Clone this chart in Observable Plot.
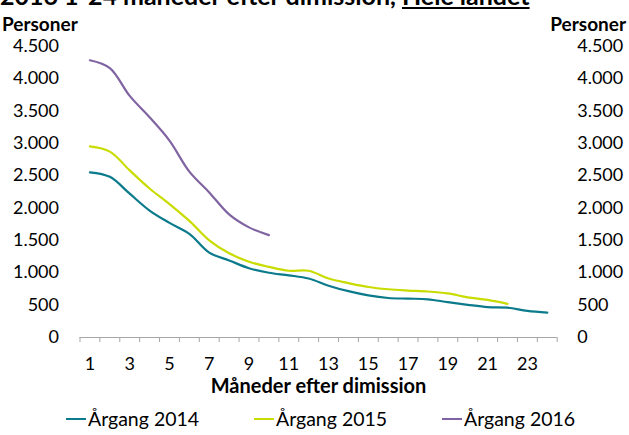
<!DOCTYPE html>
<html>
<head>
<meta charset="utf-8">
<script src="https://cdn.jsdelivr.net/npm/d3@7"></script>
<script src="https://cdn.jsdelivr.net/npm/@observablehq/plot@0.6"></script>
<style>
  html, body { margin: 0; padding: 0; background: #fff; }
  #wrap { position: relative; width: 629px; height: 435px; overflow: hidden; font-family: Lato, sans-serif; color: #000; }
  #wrap svg { position: absolute; left: 0; top: 0; }
  .abs { position: absolute; white-space: nowrap; line-height: 1; }
  .title { font-size: 25px; font-weight: bold; left: 0; top: -17px; }
  .title u { text-decoration-thickness: 2px; text-underline-offset: 2px; }
  .unit { font-size: 19px; font-weight: bold; top: 14px; }
  .xtitle { font-size: 20px; font-weight: bold; top: 377px; left: 0; width: 629px; text-align: center; padding-left: 8px; box-sizing: border-box; line-height: 16px; }
  .leg { font-size: 19.5px; top: 409px; display: flex; align-items: center; }
  .leg i { display: inline-block; width: 20px; height: 2px; margin-right: 2px; }
</style>
</head>
<body>
<div id="wrap"></div>
<script>
const months = [1,2,3,4,5,6,7,8,9,10,11,12,13,14,15,16,17,18,19,20,21,22,23,24];
const tickLabels = [1,3,5,7,9,11,13,15,17,19,21,23];
const yTicks = [0,500,1000,1500,2000,2500,3000,3500,4000,4500];
const seriesNames = ["Årgang 2014", "Årgang 2015", "Årgang 2016"];
const colors = ["#0b7b8c", "#c9dc00", "#8064a2"];
const v2014 = [2550, 2480, 2220, 1960, 1770, 1600, 1310, 1190, 1070, 1000, 960, 910, 800, 715, 650, 610, 600, 590, 545, 505, 470, 460, 410, 385];
const v2015 = [2950, 2870, 2580, 2300, 2060, 1800, 1500, 1300, 1170, 1090, 1030, 1030, 910, 840, 780, 745, 725, 710, 680, 620, 580, 520];
const v2016 = [4280, 4160, 3730, 3400, 3040, 2560, 2240, 1900, 1700, 1580];

const seriesValues = [v2014, v2015, v2016];
const data = [];
seriesValues.forEach((vals, i) => vals.forEach((v, j) => data.push({month: months[j], value: v, series: seriesNames[i]})));

const bounds = months.map(m => m - 0.5).concat([months[months.length - 1] + 0.5]);
const fmt = d3.formatLocale({decimal: ",", thousands: ".", grouping: [3], currency: ["", ""]}).format(",");

const chart = Plot.plot({
  width: 629,
  height: 435,
  marginLeft: 79.5,
  marginRight: 72.3,
  marginTop: 45.5,
  marginBottom: 98,
  style: {fontFamily: "Lato, sans-serif", fontSize: "18px", color: "#000", background: "transparent"},
  x: {type: "linear", domain: [0.5, 24.5], axis: null},
  y: {domain: [0, 4500], axis: null},
  color: {domain: seriesNames, range: colors},
  marks: [
    Plot.axisY({anchor: "left", ticks: yTicks, tickSize: 0, tickPadding: 21, tickFormat: fmt, label: null, fontSize: 18}),
    Plot.axisY({anchor: "right", ticks: yTicks, tickSize: 0, tickPadding: 20, tickFormat: fmt, label: null, fontSize: 18, textAnchor: "start"}),
    Plot.axisX({ticks: bounds, tickSize: 5, tickFormat: () => "", stroke: "#a6a6a6", label: null}),
    Plot.axisX({ticks: tickLabels, tickSize: 0, tickPadding: 20, tickFormat: d => String(d), label: null, fontSize: 18}),
    Plot.ruleY([0], {stroke: "#a6a6a6", strokeWidth: 1}),
    Plot.line(data, {x: "month", y: "value", z: "series", stroke: "series", strokeWidth: 2.2, curve: "catmull-rom"})
  ]
});

const wrap = document.getElementById("wrap");
wrap.appendChild(chart);

function addDiv(cls, html, style) {
  const d = document.createElement("div");
  d.className = "abs " + cls;
  d.innerHTML = html;
  if (style) Object.assign(d.style, style);
  wrap.appendChild(d);
  return d;
}
addDiv("title", "2016 1-24 måneder efter dimission, <u>Hele landet</u>");
addDiv("unit", "Personer", {left: "2px"});
addDiv("unit", "Personer", {right: "3px"});
addDiv("xtitle", "Måneder efter dimission");
const legX = [66, 254, 442];
seriesNames.forEach((n, i) => {
  addDiv("leg", `<i style="background:${colors[i]}"></i>${n}`, {left: legX[i] + "px"});
});
</script>
</body>
</html>
